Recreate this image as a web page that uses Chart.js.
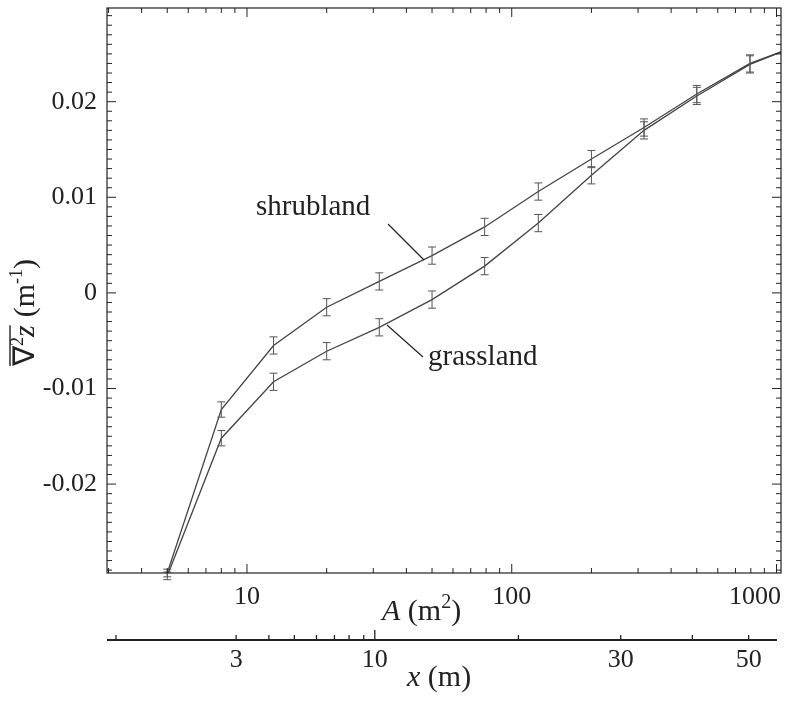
<!DOCTYPE html>
<html>
<head>
<meta charset="utf-8">
<script src="https://cdn.jsdelivr.net/npm/chart.js@4.4.0/dist/chart.umd.min.js"></script>
<style>
  html, body { margin:0; padding:0; background:#fff; }
  #wrap { width:787px; height:703px; }
</style>
</head>
<body>
<div id="wrap"><canvas id="c" width="787" height="703"></canvas></div>
<script>
/* data */
const areas     = [5, 8, 12.6, 20, 31.6, 50, 79, 126, 200, 316, 500, 794, 1040];
const shrubland = [-0.0293, -0.0122, -0.0055, -0.0015, 0.0012, 0.0039, 0.0069, 0.0106, 0.0140, 0.0173, 0.0208, 0.0240, 0.0252];
const grassland = [-0.0296, -0.0152, -0.0093, -0.0061, -0.0036, -0.0007, 0.0028, 0.0073, 0.0123, 0.0170, 0.0206, 0.0239, 0.0252];
const errors    = [0.0004, 0.0008, 0.0009, 0.0009, 0.0009, 0.0009, 0.0009, 0.0009, 0.0009, 0.0009, 0.0009, 0.0009, null];

const yTicks = [-0.02, -0.01, 0, 0.01, 0.02];
const yTickLabels = ['-0.02', '-0.01', '0', '0.01', '0.02'];
const xTicks = [10, 100, 1000];
const xTickLabels = ['10', '100', '1000'];
// lower axis: x (m) ticks and the A (m2) value each sits over
const lenLabels = ['', '3', '', '', '', '', '', '', '10', '', '30', '', '50'];
const lenAreas  = [3.2, 9.1, 12.1, 15.1, 18.3, 21.4, 24.3, 27.6, 30.4, 106, 258, 481, 785];

const FONT = '"Times New Roman", "Liberation Serif", serif';
const INK = '#222';

const toPts = vals => areas.map((a, i) => ({ x: a, y: vals[i] }));

const decor = {
  id: 'decor',
  afterDatasetsDraw(chart) {
    const { ctx, chartArea: ca, scales: { x, y } } = chart;
    ctx.save();
    // error bars
    ctx.strokeStyle = '#555'; ctx.lineWidth = 1;
    [shrubland, grassland].forEach(vals => {
      vals.forEach((v, i) => {
        if (errors[i] == null) return;
        const px = x.getPixelForValue(areas[i]);
        const t = y.getPixelForValue(v + errors[i]), b = y.getPixelForValue(v - errors[i]);
        ctx.beginPath();
        ctx.moveTo(px, t); ctx.lineTo(px, b);
        ctx.moveTo(px - 4, t); ctx.lineTo(px + 4, t);
        ctx.moveTo(px - 4, b); ctx.lineTo(px + 4, b);
        ctx.stroke();
      });
    });
    // frame
    ctx.strokeStyle = INK; ctx.lineWidth = 1.2;
    ctx.strokeRect(ca.left, ca.top, ca.right - ca.left, ca.bottom - ca.top);
    // y ticks (inside, both sides)
    ctx.lineWidth = 1;
    for (let k = -29; k <= 29; k++) {
      const py = y.getPixelForValue(k / 1000);
      const len = k % 10 === 0 ? 9 : 5;
      ctx.beginPath();
      ctx.moveTo(ca.left, py); ctx.lineTo(ca.left + len, py);
      ctx.moveTo(ca.right, py); ctx.lineTo(ca.right - len, py);
      ctx.stroke();
    }
    // x ticks (inside, top and bottom)
    for (let d = 1; d <= 1000; d *= 10) {
      for (let m = 1; m <= 9; m++) {
        const v = d * m;
        if (v < x.min || v > x.max) continue;
        const px = x.getPixelForValue(v);
        const len = m === 1 ? 9 : 5;
        ctx.beginPath();
        ctx.moveTo(px, ca.bottom); ctx.lineTo(px, ca.bottom - len);
        ctx.moveTo(px, ca.top); ctx.lineTo(px, ca.top + len);
        ctx.stroke();
      }
    }
    ctx.fillStyle = INK;
    ctx.font = '26px ' + FONT;
    // y tick labels
    ctx.textAlign = 'right'; ctx.textBaseline = 'middle';
    yTicks.forEach((v, i) => ctx.fillText(yTickLabels[i], ca.left - 10, y.getPixelForValue(v)));
    // x tick labels
    xTicks.forEach((v, i) => {
      const px = x.getPixelForValue(v);
      ctx.textAlign = v === 1000 ? 'right' : 'center';
      ctx.fillText(xTickLabels[i], v === 1000 ? ca.right : px, ca.bottom + 24);
    });
    // x title A (m2)
    ctx.textAlign = 'left';
    let tx = 382, ty = 612;
    ctx.font = 'italic 30px ' + FONT; ctx.fillText('A', tx, ty); tx += ctx.measureText('A ').width;
    ctx.font = '30px ' + FONT; ctx.fillText('(m', tx, ty); tx += ctx.measureText('(m').width;
    ctx.font = '20px ' + FONT; ctx.fillText('2', tx, ty - 9); tx += ctx.measureText('2').width;
    ctx.font = '30px ' + FONT; ctx.fillText(')', tx, ty);
    // lower axis x (m)
    const ly = 640;
    ctx.lineWidth = 1.8;
    ctx.beginPath(); ctx.moveTo(ca.left, ly); ctx.lineTo(ca.right - 4, ly); ctx.stroke();
    ctx.lineWidth = 1.3;
    ctx.font = '26px ' + FONT; ctx.textAlign = 'center';
    lenAreas.forEach((a, i) => {
      const px = x.getPixelForValue(a);
      const len = lenLabels[i] === '10' ? 10 : 5;
      ctx.beginPath(); ctx.moveTo(px, ly); ctx.lineTo(px, ly - len); ctx.stroke();
      if (lenLabels[i]) ctx.fillText(lenLabels[i], px, ly + 20);
    });
    tx = 407; ty = 678; ctx.textAlign = 'left';
    ctx.font = 'italic 30px ' + FONT; ctx.fillText('x', tx, ty); tx += ctx.measureText('x ').width;
    ctx.font = '30px ' + FONT; ctx.fillText('(m)', tx, ty);
    // y title, rotated
    ctx.save();
    ctx.translate(26, 290); ctx.rotate(-Math.PI / 2);
    ctx.textBaseline = 'middle';
    let sx = -76;
    ctx.font = '30px ' + FONT; ctx.fillText('\u2207', sx, 0);
    const start = sx; sx += ctx.measureText('\u2207').width;
    ctx.font = '18px ' + FONT; ctx.fillText('2', sx, -8); sx += ctx.measureText('2').width;
    ctx.font = 'italic 30px ' + FONT; ctx.fillText('z', sx, 0); sx += ctx.measureText('z').width;
    ctx.lineWidth = 1.4;
    ctx.beginPath(); ctx.moveTo(start, -16); ctx.lineTo(sx, -16); ctx.stroke();
    sx += 8;
    ctx.font = '30px ' + FONT; ctx.fillText('(m', sx, 0); sx += ctx.measureText('(m').width;
    ctx.font = '18px ' + FONT; ctx.fillText('-1', sx, -9); sx += ctx.measureText('-1').width;
    ctx.font = '30px ' + FONT; ctx.fillText(')', sx, 0);
    ctx.restore();
    // annotations
    ctx.font = '29px ' + FONT; ctx.textBaseline = 'middle'; ctx.textAlign = 'left';
    ctx.fillText('shrubland', 256, 207);
    ctx.fillText('grassland', 428, 357);
    ctx.lineWidth = 1.2;
    ctx.beginPath();
    ctx.moveTo(388, 224); ctx.lineTo(424, 260);
    ctx.moveTo(387, 325); ctx.lineTo(423, 357);
    ctx.stroke();
    ctx.restore();
  }
};

new Chart(document.getElementById('c'), {
  type: 'line',
  data: {
    datasets: [
      { label: 'shrubland', data: toPts(shrubland), borderColor: '#444', borderWidth: 1.3, pointRadius: 0, tension: 0 },
      { label: 'grassland', data: toPts(grassland), borderColor: '#444', borderWidth: 1.3, pointRadius: 0, tension: 0 },
    ]
  },
  options: {
    responsive: false, animation: false, devicePixelRatio: 1,
    layout: { padding: { left: 107, right: 6, top: 8, bottom: 130 } },
    plugins: { legend: { display: false }, tooltip: { enabled: false } },
    scales: {
      x: { type: 'logarithmic', min: 2.96, max: 1040, display: false },
      y: { type: 'linear', min: -0.0293, max: 0.0298, display: false },
    },
  },
  plugins: [decor],
});
</script>
</body>
</html>
